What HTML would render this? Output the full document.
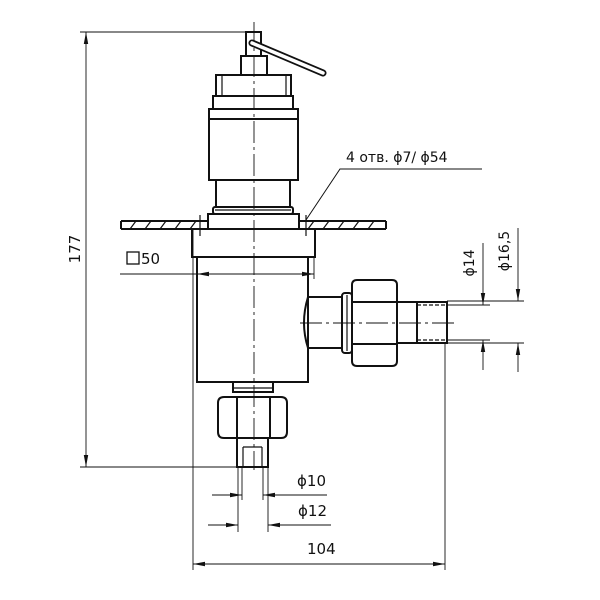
<!DOCTYPE html>
<html><head><meta charset="utf-8"><style>
html,body{margin:0;padding:0;background:#fff;}
svg{display:block}
text{font-family:"DejaVu Sans","Liberation Sans",sans-serif;fill:#111}
</style></head><body>
<svg width="600" height="600" viewBox="0 0 600 600" xmlns="http://www.w3.org/2000/svg">
<defs>
<marker id="a" viewBox="0 0 12 6" refX="12" refY="3" markerWidth="12" markerHeight="6" orient="auto-start-reverse" markerUnits="userSpaceOnUse"><path d="M0,0.8 L12,3 L0,5.2 z" fill="#111"/></marker>
</defs>
<g fill="none" stroke="#111" stroke-width="1.2">
<line x1="254" y1="22" x2="254" y2="470" stroke-width="0.9" stroke-dasharray="22,4,3,4"/>
<line x1="300" y1="323" x2="455" y2="323" stroke-width="0.9" stroke-dasharray="22,4,3,4"/>

<line x1="80" y1="32" x2="246" y2="32" stroke-width="0.9"/>
<line x1="80" y1="467" x2="240" y2="467" stroke-width="0.9"/>
<line x1="86" y1="32" x2="86" y2="467" stroke-width="0.9" marker-start="url(#a)" marker-end="url(#a)"/>

<rect x="246" y="32" width="15" height="24" stroke-width="2"/>
<line x1="252" y1="43" x2="323" y2="73" stroke-width="7" stroke-linecap="round"/>
<line x1="252" y1="43" x2="323" y2="73" stroke-width="3.5" stroke="#fff" stroke-linecap="round"/>
<rect x="241" y="56" width="26" height="19" stroke-width="2"/>
<rect x="216" y="75" width="75" height="21" stroke-width="2"/>
<line x1="222" y1="75" x2="222" y2="96"/><line x1="286" y1="75" x2="286" y2="96"/>
<rect x="213" y="96" width="80" height="13" stroke-width="2"/>
<rect x="209" y="109" width="89" height="71" stroke-width="2"/>
<line x1="209" y1="119" x2="298" y2="119" stroke-width="2"/>
<rect x="216" y="180" width="74" height="27" stroke-width="2"/>
<rect x="213" y="207" width="80" height="7" rx="2" stroke-width="2"/>
<line x1="215" y1="210" x2="291" y2="210"/>
<rect x="208" y="214" width="91" height="15" stroke-width="2"/>

<path d="M121,221 H208 M121,229 H208 M121,221 V229 M299,221 H386 M299,229 H386 M386,221 V229" stroke-width="2"/>
<path d="M130,229 l6,-8 M145,229 l6,-8 M160,229 l6,-8 M175,229 l6,-8 M190,229 l6,-8 M308,229 l6,-8 M323,229 l6,-8 M338,229 l6,-8 M353,229 l6,-8 M368,229 l6,-8"/>
<line x1="200" y1="215" x2="200" y2="236"/>
<line x1="306" y1="215" x2="306" y2="236"/>

<polyline points="306,220 340,169 482,169" stroke-width="1"/>

<rect x="192" y="229" width="123" height="28" stroke-width="2"/>
<rect x="197" y="257" width="111" height="125" stroke-width="2"/>
<line x1="193" y1="229" x2="193" y2="570" stroke-width="0.9"/>
<line x1="314" y1="257" x2="314" y2="279" stroke-width="0.9"/>
<line x1="120" y1="274" x2="197" y2="274" stroke-width="0.9"/>
<line x1="197" y1="274" x2="314" y2="274" stroke-width="0.9" marker-start="url(#a)" marker-end="url(#a)"/>
<rect x="127" y="252" width="12" height="12" stroke-width="1.3"/>

<path d="M308,297 H342 V348 H308 Q300,323 308,297 Z" stroke-width="2"/>
<rect x="342" y="293" width="10" height="60" rx="3" stroke-width="2"/>
<line x1="347" y1="295" x2="347" y2="351"/>
<path d="M357,280 H392 Q397,280 397,285 V361 Q397,366 392,366 H357 Q352,366 352,361 V285 Q352,280 357,280 Z" stroke-width="2"/>
<line x1="352" y1="302" x2="397" y2="302" stroke-width="2"/>
<line x1="352" y1="344" x2="397" y2="344" stroke-width="2"/>
<path d="M397,302 H447 V343 H397" stroke-width="2"/>
<line x1="417" y1="302" x2="417" y2="343" stroke-width="2"/>
<line x1="417" y1="305" x2="447" y2="305" stroke-dasharray="4,2"/>
<line x1="417" y1="340" x2="447" y2="340" stroke-dasharray="4,2"/>
<line x1="445" y1="343" x2="445" y2="570" stroke-width="0.9"/>
<line x1="447" y1="305" x2="490" y2="305" stroke-width="0.9"/>
<line x1="447" y1="340" x2="490" y2="340" stroke-width="0.9"/>
<line x1="447" y1="301" x2="524" y2="301" stroke-width="0.9"/>
<line x1="447" y1="343" x2="524" y2="343" stroke-width="0.9"/>
<line x1="483" y1="243" x2="483" y2="305" stroke-width="0.9" marker-end="url(#a)"/>
<line x1="483" y1="370" x2="483" y2="340" stroke-width="0.9" marker-end="url(#a)"/>
<line x1="518" y1="228" x2="518" y2="301" stroke-width="0.9" marker-end="url(#a)"/>
<line x1="518" y1="372" x2="518" y2="343" stroke-width="0.9" marker-end="url(#a)"/>

<rect x="233" y="382" width="40" height="10" stroke-width="2"/>
<line x1="233" y1="388" x2="273" y2="388"/>
<path d="M224,397 H281 Q287,397 287,403 V432 Q287,438 281,438 H224 Q218,438 218,432 V403 Q218,397 224,397 Z" stroke-width="2"/>
<line x1="237" y1="397" x2="237" y2="438" stroke-width="2"/>
<line x1="270" y1="397" x2="270" y2="438" stroke-width="2"/>
<rect x="237" y="438" width="31" height="29" stroke-width="2"/>
<line x1="243" y1="447" x2="243" y2="467"/><line x1="262" y1="447" x2="262" y2="467"/>
<line x1="243" y1="447" x2="262" y2="447"/>
<line x1="242" y1="467" x2="242" y2="500" stroke-width="0.9"/>
<line x1="263" y1="467" x2="263" y2="500" stroke-width="0.9"/>
<line x1="238" y1="467" x2="238" y2="532" stroke-width="0.9"/>
<line x1="268" y1="467" x2="268" y2="532" stroke-width="0.9"/>
<line x1="212" y1="495" x2="242" y2="495" stroke-width="0.9" marker-end="url(#a)"/>
<line x1="327" y1="495" x2="263" y2="495" stroke-width="0.9" marker-end="url(#a)"/>
<line x1="208" y1="525" x2="238" y2="525" stroke-width="0.9" marker-end="url(#a)"/>
<line x1="331" y1="525" x2="268" y2="525" stroke-width="0.9" marker-end="url(#a)"/>
<line x1="193" y1="564" x2="445" y2="564" stroke-width="0.9" marker-start="url(#a)" marker-end="url(#a)"/>
</g>
<text x="80" y="249" font-size="15" text-anchor="middle" transform="rotate(-90 80 249)">177</text>
<text x="141" y="264" font-size="15">50</text>
<text x="346" y="162" font-size="14">4 отв. ϕ7/ ϕ54</text>
<text x="297" y="486" font-size="15">ϕ10</text>
<text x="298" y="516" font-size="15">ϕ12</text>
<text x="307" y="554" font-size="15">104</text>
<text x="474" y="263" font-size="14" text-anchor="middle" transform="rotate(-90 474 263)">ϕ14</text>
<text x="509" y="251" font-size="14" text-anchor="middle" transform="rotate(-90 509 251)">ϕ16,5</text>
</svg>
</body></html>
